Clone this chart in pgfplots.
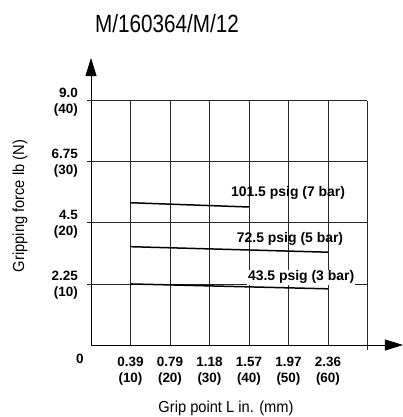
\documentclass[border=0pt]{standalone}
\usepackage{fontspec}
\setmainfont{Liberation Sans}
\newfontfamily\condensed[FakeStretch=0.83]{Liberation Sans}
\newfontfamily\narrowf[FakeStretch=0.92]{Liberation Sans}
\usepackage{pgfplots}
\pgfplotsset{compat=1.18}
\usetikzlibrary{arrows.meta}
\definecolor{gridc}{RGB}{40,40,40}
\begin{document}
\begin{tikzpicture}
\useasboundingbox (-91bp,-72bp) rectangle (312bp,345bp);
\begin{axis}[
  scale only axis, width=312bp, height=287bp,
  xmin=0, xmax=79, ymin=0, ymax=47,
  clip=false,
  axis x line=bottom, axis y line=left,
  axis line style={line width=0.9pt, -{Triangle[length=18bp,width=11bp]}},
  xtick={10,20,30,40,50,60},
  xticklabels={{0.39\\(10)},{0.79\\(20)},{1.18\\(30)},{1.57\\(40)},{1.97\\(50)},{2.36\\(60)}},
  ytick={10,20,30,40},
  yticklabels={{2.25\\(10)},{4.5\\(20)},{6.75\\(30)},{9.0\\(40)}},
  major tick length=0pt,
  xticklabel style={font=\bfseries\fontsize{13.5}{16}\selectfont, align=center, anchor=north, yshift=-11bp, inner sep=1pt},
  yticklabel style={font=\bfseries\fontsize{13.5}{16}\selectfont, align=right, anchor=east, xshift=-12bp, yshift=-1bp, inner sep=1pt},
]
% grid
\foreach \yy in {10,20,30,40} {
  \edef\tmp{\noexpand\draw[gridc, line width=0.8pt] (axis cs:-1,\yy) -- (axis cs:70,\yy);}\tmp
}
\foreach \xx in {10,20,30,40,50,60} {
  \edef\tmp{\noexpand\draw[gridc, line width=0.8pt] (axis cs:\xx,0) -- (axis cs:\xx,40);}\tmp
}
\draw[gridc, line width=0.8pt] (axis cs:70,-0.8) -- (axis cs:70,40);
% data
\addplot[black, line width=1.5pt] coordinates {(10,23.3) (40,22.6)};
\addplot[black, line width=1.5pt] coordinates {(10,16.1) (60,15.2)};
\addplot[black, line width=1.5pt] coordinates {(10,10.0) (60,9.2)};
\node[font=\bfseries\fontsize{14}{14}\selectfont] at (axis cs:49.9,24.9) {101.5 psig (7 bar)};
\node[font=\bfseries\fontsize{14}{14}\selectfont] at (axis cs:50.4,17.4) {72.5 psig (5 bar)};
\node[font=\bfseries\fontsize{14}{14}\selectfont, fill=white, inner sep=1pt] at (axis cs:53.2,11.1) {43.5 psig (3 bar)};
\node[font=\bfseries\fontsize{13.5}{13.5}\selectfont] at (axis cs:-2.8,-2.3) {0};
\end{axis}
\node[font=\condensed\fontsize{25}{28}\selectfont] at (76bp,321bp) {M/160364/M/12};
\node[font=\narrowf\fontsize{16}{18}\selectfont, rotate=90] at (-71bp,139bp) {Gripping force lb (N)};
\node[font=\narrowf\fontsize{16}{18}\selectfont] at (135bp,-63bp) {Grip point L in. (mm)};
\end{tikzpicture}
\end{document}
